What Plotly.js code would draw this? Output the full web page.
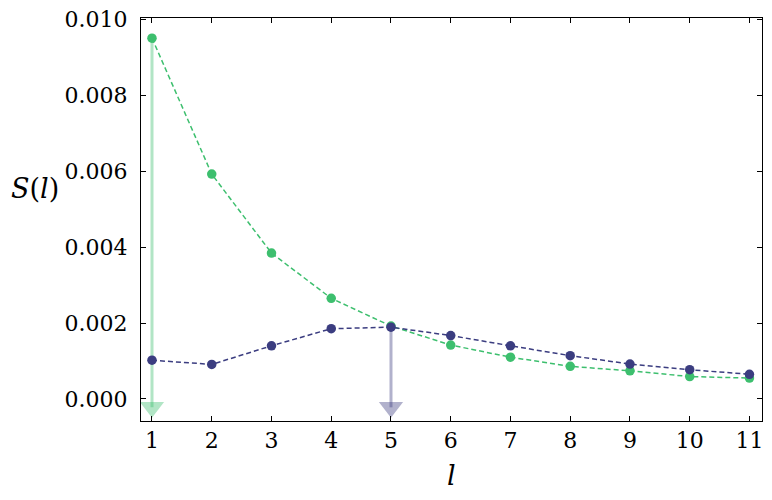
<!DOCTYPE html>
<html>
<head>
<meta charset="utf-8">
<script src="https://cdn.plot.ly/plotly-3.0.1.min.js"></script>
<style>html,body{margin:0;padding:0;background:#fff;}#chart{width:772px;height:500px;}</style>
</head>
<body>
<div id="chart"></div>
<script>
const lValues = [1,2,3,4,5,6,7,8,9,10,11];
const greenS = [0.0095,0.00592,0.00384,0.00265,0.00192,0.00142,0.00110,0.00086,0.00074,0.00059,0.00055];
const blueS  = [0.00102,0.00091,0.00140,0.00185,0.00189,0.00167,0.00140,0.00114,0.00092,0.00077,0.00065];
const xTicks = [1,2,3,4,5,6,7,8,9,10,11];
const yTicks = [0,0.002,0.004,0.006,0.008,0.010];
const yTickText = ['0.000','0.002','0.004','0.006','0.008','0.010'];

const green = '#3dbf6e';
const blue = '#3b3d80';
const greenA = 'rgba(61,191,110,0.4)';
const blueA = 'rgba(59,61,128,0.4)';
const arrowTipY = -0.00022;

function peak(ys){ let i=0; ys.forEach((v,k)=>{ if(v>ys[i]) i=k; }); return i; }
function arrowTraces(ys, col){
  const i = peak(ys);
  return [
    {x:[lValues[i],lValues[i]], y:[ys[i], arrowTipY], mode:'lines', line:{color:col,width:3}, hoverinfo:'skip', showlegend:false},
    {x:[lValues[i]], y:[arrowTipY], mode:'markers', marker:{symbol:'triangle-down', size:21, color:col, line:{width:0}}, hoverinfo:'skip', showlegend:false}
  ];
}

const data = [
  ...arrowTraces(greenS, greenA),
  ...arrowTraces(blueS, blueA),
  {x:lValues, y:greenS, mode:'lines+markers', line:{color:green,width:1.5,dash:'5px,3px'}, marker:{color:green,size:9.5}, showlegend:false},
  {x:lValues, y:blueS, mode:'lines+markers', line:{color:blue,width:1.5,dash:'5px,3px'}, marker:{color:blue,size:9.5}, showlegend:false}
];

const fam = '"DejaVu Serif", serif';
const font = {family:fam, size:22, color:'#000'};
const layout = {
  width:772, height:500,
  margin:{l:141, r:10, t:18, b:79},
  paper_bgcolor:'#fff', plot_bgcolor:'#fff',
  font: font,
  showlegend:false,
  xaxis:{range:[0.816,11.21], tickvals:xTicks, ticktext:xTicks.map(String), ticks:'inside', ticklen:5, tickcolor:'#000',
    showline:true, linecolor:'#000', linewidth:1, mirror:'ticks', showgrid:false, zeroline:false,
    tickfont:font, title:{text:''}},
  yaxis:{range:[-0.00058,0.01003], tickvals:yTicks, ticktext:yTickText, ticks:'inside', ticklen:5, tickcolor:'#000',
    showline:true, linecolor:'#000', linewidth:1, mirror:'ticks', showgrid:false, zeroline:false,
    ticklabelstandoff:8, tickfont:font, title:{text:''}},
  annotations:[
    {text:'<i>S</i>(<i>l</i>)', xref:'paper', yref:'paper', x:-0.171, y:0.578, xanchor:'center', yanchor:'middle', showarrow:false, font:{family:fam,size:27,color:'#000'}},
    {text:'<i>l</i>', xref:'paper', yref:'paper', x:0.5, y:-0.135, xanchor:'center', yanchor:'middle', showarrow:false, font:{family:fam,size:27,color:'#000'}}
  ]
};
Plotly.newPlot('chart', data, layout, {displayModeBar:false, staticPlot:true});
</script>
</body>
</html>
